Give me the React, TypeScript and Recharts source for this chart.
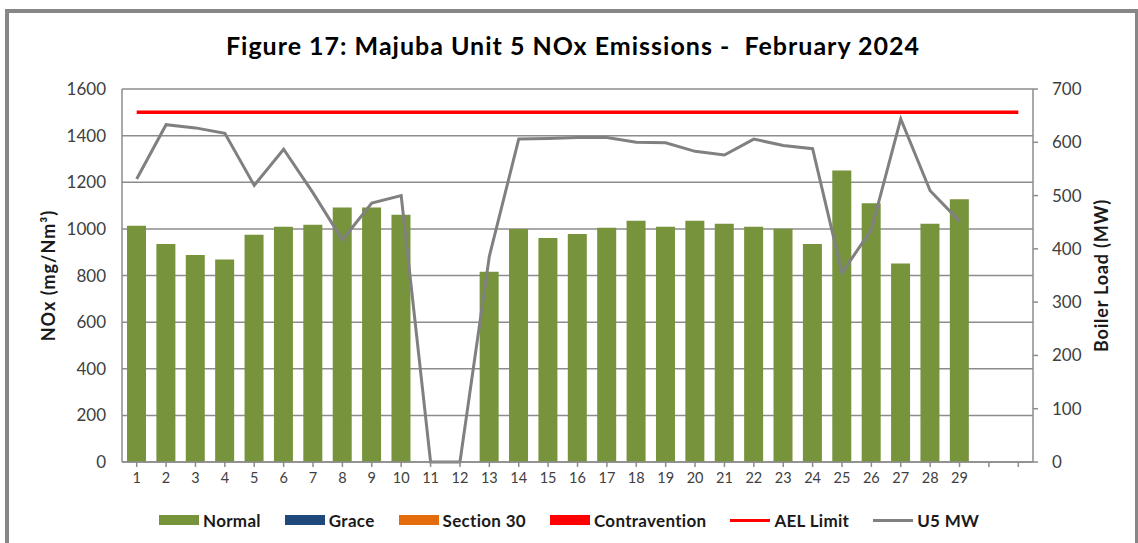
import React from 'react';
import { ComposedChart, Bar, Line, XAxis, YAxis, CartesianGrid, Legend } from 'recharts';

const days = [1, 2, 3, 4, 5, 6, 7, 8, 9, 10, 11, 12, 13, 14, 15, 16, 17, 18, 19, 20, 21, 22, 23, 24, 25, 26, 27, 28, 29, 30, 31];
const dayLabels = ['1', '2', '3', '4', '5', '6', '7', '8', '9', '10', '11', '12', '13', '14', '15', '16', '17', '18', '19', '20', '21', '22', '23', '24', '25', '26', '27', '28', '29', '', ''];
const normalNOx = [1013, 935, 888, 869, 975, 1009, 1018, 1092, 1092, 1061, null, null, 816, 999, 961, 978, 1005, 1035, 1009, 1035, 1022, 1009, 1001, 935, 1250, 1110, 852, 1022, 1127, null, null];
const u5MW = [531, 633, 627, 617, 519, 587, 505, 417, 486, 500, 0, 0, 386, 606, 607, 609, 609, 600, 599, 583, 576, 606, 594, 588, 355, 436, 644, 509, 452, null, null];
const aelLimit = [1500, 1500, 1500, 1500, 1500, 1500, 1500, 1500, 1500, 1500, 1500, 1500, 1500, 1500, 1500, 1500, 1500, 1500, 1500, 1500, 1500, 1500, 1500, 1500, 1500, 1500, 1500, 1500, 1500, 1500, 1500];
const leftTicks = [0, 200, 400, 600, 800, 1000, 1200, 1400, 1600];
const rightTicks = [0, 100, 200, 300, 400, 500, 600, 700];
const legendOrder = ['Normal', 'Grace', 'Section 30', 'Contravention', 'AEL Limit', 'U5 MW'];

const data = days.map((d, i) => ({
  day: d,
  normal: normalNOx[i],
  mw: u5MW[i],
  ael: aelLimit[i],
}));

const FONT = 'Lato, "Open Sans", sans-serif';
const GRID = '#8c8c8c';

const renderLegend = (props: any) => {
  const payload = (props.payload || []).slice().sort(
    (a: any, b: any) => legendOrder.indexOf(a.value) - legendOrder.indexOf(b.value)
  );
  return (
    <div
      style={{
        width: 1138,
        height: 20,
        display: 'flex',
        alignItems: 'center',
        boxSizing: 'border-box',
        paddingLeft: 159,
        gap: 24,
        fontFamily: FONT,
        fontWeight: 700,
        fontSize: 17,
        letterSpacing: 0.3,
        color: '#1a1a1a',
      }}
    >
      {payload.map((p: any) => (
        <div key={p.value} style={{ display: 'flex', alignItems: 'center' }}>
          {p.type === 'line' ? (
            <div style={{ width: 40, height: 3, background: p.color }} />
          ) : (
            <div style={{ width: 40, height: 10, background: p.color }} />
          )}
          <span style={{ marginLeft: 4, whiteSpace: 'nowrap' }}>{p.value}</span>
        </div>
      ))}
    </div>
  );
};

const leftTitle = (props: any) => {
  const vb = props.viewBox || {};
  const x = vb.x + 48;
  const y = vb.y + vb.height / 2;
  return (
    <text
      x={x}
      y={y}
      transform={`rotate(-90 ${x} ${y})`}
      textAnchor="middle"
      dominantBaseline="central"
      style={{ fontFamily: FONT, fontWeight: 700, fontSize: 18, letterSpacing: 1, fill: '#1a1a1a' }}
    >
      NOx (mg/Nm³)
    </text>
  );
};

const rightTitle = (props: any) => {
  const vb = props.viewBox || {};
  const x = vb.x + 68;
  const y = vb.y + vb.height / 2;
  return (
    <text
      x={x}
      y={y}
      transform={`rotate(-90 ${x} ${y})`}
      textAnchor="middle"
      dominantBaseline="central"
      style={{ fontFamily: FONT, fontWeight: 700, fontSize: 18, letterSpacing: 0.8, fill: '#1a1a1a' }}
    >
      Boiler Load (MW)
    </text>
  );
};

export default function App() {
  return (
    <div style={{ position: 'absolute', left: 0, top: 0, width: 1138, height: 543, overflow: 'hidden', background: '#fff' }}>
      <div
        style={{
          position: 'absolute',
          left: 5,
          top: 9,
          width: 1134,
          height: 600,
          boxSizing: 'border-box',
          border: '4px solid #878787',
        }}
      />
      <div
        style={{
          position: 'absolute',
          left: 0,
          top: 33,
          width: 1146,
          textAlign: 'center',
          fontFamily: FONT,
          fontWeight: 700,
          fontSize: 25,
          letterSpacing: 1,
          lineHeight: '25px',
          color: '#000',
          whiteSpace: 'pre',
        }}
      >
        {'Figure 17: Majuba Unit 5 NOx Emissions -  February 2024'}
      </div>
      <div style={{ position: 'absolute', left: 0, top: 0 }}>
        <ComposedChart
          width={1138}
          height={543}
          data={data}
          margin={{ top: 89, right: 10, bottom: 13, left: 0 }}
        >
          <CartesianGrid yAxisId="left" horizontal={true} vertical={false} stroke={GRID} strokeWidth={1.5} />
          <XAxis
            dataKey="day"
            type="category"
            interval={0}
            height={48}
            tickFormatter={(v: any) => dayLabels[Number(v) - 1]}
            tick={{ fill: '#404040', fontSize: 14.5, fontFamily: FONT }}
            axisLine={{ stroke: GRID, strokeWidth: 1.5 }}
            tickLine={{ stroke: GRID, strokeWidth: 1.5 }}
            tickSize={5}
            tickMargin={6}
          />
          <YAxis
            yAxisId="left"
            orientation="left"
            width={122}
            domain={[0, 1600]}
            ticks={leftTicks}
            interval={0}
            tick={{ fill: '#404040', fontSize: 17, fontFamily: FONT }}
            axisLine={{ stroke: GRID, strokeWidth: 1.5 }}
            tickLine={false}
            tickSize={6}
            tickMargin={10}
            label={{ content: leftTitle }}
          />
          <YAxis
            yAxisId="right"
            orientation="right"
            width={95}
            domain={[0, 700]}
            ticks={rightTicks}
            interval={0}
            tick={{ fill: '#404040', fontSize: 17, fontFamily: FONT }}
            axisLine={{ stroke: GRID, strokeWidth: 1.5 }}
            tickLine={{ stroke: GRID, strokeWidth: 1.5 }}
            tickSize={5}
            tickMargin={14}
            label={{ content: rightTitle }}
          />
          <Legend verticalAlign="bottom" align="left" content={renderLegend} wrapperStyle={{ left: 0, width: 1138 }} />
          <Bar yAxisId="left" dataKey="normal" name="Normal" stackId="s" fill="#77933C" barSize={19} isAnimationActive={false} legendType="rect" />
          <Bar yAxisId="left" dataKey="grace" name="Grace" stackId="s" fill="#1F497D" barSize={19} isAnimationActive={false} legendType="rect" />
          <Bar yAxisId="left" dataKey="section30" name="Section 30" stackId="s" fill="#E46C0A" barSize={19} isAnimationActive={false} legendType="rect" />
          <Bar yAxisId="left" dataKey="contravention" name="Contravention" stackId="s" fill="#FF0000" barSize={19} isAnimationActive={false} legendType="rect" />
          <Line yAxisId="left" dataKey="ael" name="AEL Limit" stroke="#FF0000" strokeWidth={3.5} dot={false} activeDot={false} type="linear" isAnimationActive={false} legendType="line" />
          <Line yAxisId="right" dataKey="mw" name="U5 MW" stroke="#808080" strokeWidth={3} dot={false} activeDot={false} type="linear" isAnimationActive={false} legendType="line" connectNulls={false} />
        </ComposedChart>
      </div>
    </div>
  );
}
